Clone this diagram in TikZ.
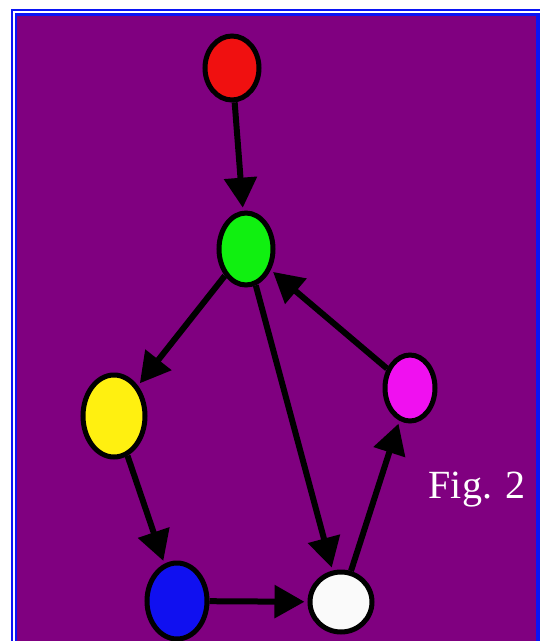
\documentclass[tikz,border=0pt]{standalone}
\usepackage{fontspec}
\setmainfont{Liberation Serif}
\usepackage{tikz}
\usetikzlibrary{arrows.meta,shapes.geometric}
\usepackage{xcolor}
\definecolor{Plum}{HTML}{800080}
\definecolor{Frame}{HTML}{0A14F5}
\definecolor{NodeRed}{HTML}{F01010}
\definecolor{NodeGreen}{HTML}{10F010}
\definecolor{NodeYellow}{HTML}{FFF010}
\definecolor{NodeMagenta}{HTML}{F010F0}
\definecolor{NodeBlue}{HTML}{1010F0}
\definecolor{NodeWhite}{HTML}{FAFAFA}
\tikzset{
 vertex/.style={ellipse, draw=black, line width=5pt, inner sep=0pt},
 arrow/.style={-{Triangle[length=30pt,width=32pt]}, line width=6pt, draw=black, shorten >=3pt},
 caption/.style={text=white, font=\fontsize{40}{40}\selectfont}
}

\begin{document}
\begin{tikzpicture}[x=1pt,y=-1pt]
\useasboundingbox (0,0) rectangle (540,641);
\clip (0,0) rectangle (540,641);
% frame and background
\fill[white] (0,0) rectangle (540,641);
\draw[Frame, line width=2pt] (12,10) rectangle (544,660);
\fill[Frame] (15,13) rectangle (540,660);
\fill[Plum] (17,16) rectangle (536,660);
% vertices
\node[vertex, fill=NodeRed, minimum width=54pt, minimum height=64pt] (red) at (232,68) {};
\node[vertex, fill=NodeGreen, minimum width=54pt, minimum height=72pt] (green) at (246,249) {};
\node[vertex, fill=NodeYellow, minimum width=62pt, minimum height=82pt] (yellow) at (114,416) {};
\node[vertex, fill=NodeMagenta, minimum width=50pt, minimum height=66pt] (magenta) at (410,388) {};
\node[vertex, fill=NodeBlue, minimum width=60pt, minimum height=76pt] (blue) at (177,601) {};
\node[vertex, fill=NodeWhite, minimum width=62pt, minimum height=60pt] (white) at (341,602) {};
% edges
\draw[arrow] (red) -- (green);
\draw[arrow] (green) -- (yellow);
\draw[arrow] (green) -- (white);
\draw[arrow] (magenta) -- (green);
\draw[arrow] (yellow) -- (blue);
\draw[arrow] (blue) -- (white);
\draw[arrow] (white) -- (magenta);
\node[caption] (fig) at (477,490) {Fig. 2};
\end{tikzpicture}
\end{document}
